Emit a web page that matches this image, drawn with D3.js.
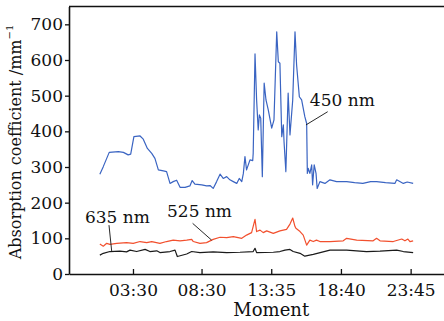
<!DOCTYPE html>
<html>
<head>
<meta charset="utf-8">
<script src="https://cdn.jsdelivr.net/npm/d3@7"></script>
<style>
  body { margin: 0; background: #fff; }
  text { font-family: "DejaVu Serif", serif; fill: #111; }
</style>
</head>
<body>
<div id="chart-area"></div>
<script>
// tick labels on the time axis
var timeTicks = ["03:30", "08:30", "13:35", "18:40", "23:45"];
var valueTicks = [0, 100, 200, 300, 400, 500, 600, 700];

// 450 nm
var blueTimes = ["01:05","01:20","01:46","02:26","02:48","03:09","03:20","03:34","04:01","04:15","04:33","04:52","05:06","05:21","05:43","05:57","06:12","06:26","06:41","06:56","07:18","07:39","07:49","08:01","08:31","08:52","09:07","09:21","09:36","09:51","10:05","10:20","10:34","10:49","11:04","11:15","11:26","11:33","11:40","11:47","12:02","12:14","12:16","12:24","12:31","12:38","12:43","12:49","12:56","13:04","13:12","13:22","13:37","13:47","13:59","14:06","14:13","14:21","14:28","14:31","14:39","14:49","14:57","15:09","15:19","15:26","15:38","15:48","16:02","16:10","16:13","16:17","16:24","16:32","16:36","16:43","16:51","16:56","17:08","17:30","17:52","18:21","19:05","19:40","20:16","20:50","21:16","21:55","22:36","22:44","23:13","23:30","23:56"];
var blueValues = [280,301,341,343,341,334,336,385,387,378,352,338,324,292,289,287,254,259,263,243,243,247,262,252,250,247,248,240,259,280,268,273,264,259,254,268,259,282,329,292,320,318,338,617,488,404,446,437,273,535,488,460,409,432,679,595,591,385,418,371,287,507,390,488,679,586,497,488,441,422,282,296,282,306,250,306,282,240,259,254,264,259,259,256,254,259,259,256,254,264,254,258,254];

// 525 nm
var redTimes = ["01:05","01:20","01:35","01:49","02:19","03:02","03:31","04:01","04:30","04:52","05:28","05:57","06:26","06:56","07:25","07:47","07:54","08:23","08:52","09:21","09:51","10:20","10:49","11:26","11:47","12:09","12:24","12:31","12:46","13:00","13:15","13:44","14:13","14:42","14:57","15:09","15:19","15:23","15:41","15:55","16:10","16:24","16:39","16:53","17:08","17:52","18:50","19:05","19:49","21:01","21:16","21:31","22:29","23:06","23:20","23:33","23:42","23:56"];
var redValues = [84,78,86,83,86,88,86,91,88,91,86,91,95,93,95,97,91,86,88,97,103,102,105,100,109,116,153,119,123,116,121,114,121,125,140,157,133,128,119,109,81,95,91,95,91,91,93,100,95,93,100,93,91,98,93,98,91,93];

// 635 nm
var blackTimes = ["01:05","01:20","01:49","02:33","03:02","03:17","03:46","04:23","04:44","05:14","05:28","06:12","06:34","06:44","07:25","07:47","08:23","09:21","10:20","11:18","12:16","12:24","12:31","13:44","14:13","14:35","14:57","15:11","15:41","16:02","16:39","17:52","19:05","20:32","21:31","22:44","23:13","23:56"];
var blackValues = [53,58,63,64,62,67,63,69,63,65,60,63,67,49,56,63,60,62,60,61,63,72,60,61,63,67,69,63,58,50,55,67,67,63,64,67,63,60];

var seriesNames = ["450 nm", "525 nm", "635 nm"];
var seriesColors = ["#3a64c2", "#f2502e", "#1a1a1a"];

// label anchor, leader start, leader end (time, value)
var labelTimes = [["16:24", "17:42", "16:07"], ["05:59", "07:51", "09:14"], ["00:00", "01:45", "01:57"]];
var labelValues = [[471, 455, 418], [160, 142, 95], [143, 137, 63]];

function toMin(t) {
	var p = t.split(":");
	return +p[0] * 60 + +p[1];
}

var W = 444, H = 321;
var svg = d3.select("#chart-area")
	.append("svg")
	.attr("width", W)
	.attr("height", H);

var x = d3.scaleLinear()
	.domain([-70, 1571])
	.range([69, 444]);

var y = d3.scaleLinear()
	.domain([0, 750])
	.range([274, 6.5]);

// top frame line
svg.append("line")
	.attr("x1", x.range()[0]).attr("x2", x.range()[1])
	.attr("y1", y(750)).attr("y2", y(750))
	.attr("stroke", "#111").attr("stroke-width", 1.6);

// X axis (ticks point inward)
var xAxis = d3.axisBottom(x)
	.tickValues(timeTicks.map(toMin))
	.tickFormat(function (d, i) { return timeTicks[i]; })
	.tickSizeInner(-5)
	.tickSizeOuter(0)
	.tickPadding(10);

var gx = svg.append("g")
	.attr("transform", "translate(0," + y(0) + ")")
	.call(xAxis);
gx.selectAll("text").attr("font-size", "17px").attr("font-family", "DejaVu Serif").attr("fill", "#111");

// Y axis
var yAxis = d3.axisLeft(y)
	.tickValues(valueTicks)
	.tickSizeInner(4)
	.tickSizeOuter(0)
	.tickPadding(2);

var gy = svg.append("g")
	.attr("transform", "translate(" + x(-70) + ",0)")
	.call(yAxis);
gy.selectAll("text").attr("font-size", "17px").attr("font-family", "DejaVu Serif").attr("fill", "#111");

svg.selectAll(".domain").attr("stroke", "#111").attr("stroke-width", 1.6);
svg.selectAll(".tick line").attr("stroke", "#111").attr("stroke-width", 1.3);

// Lines
var line = d3.line()
	.x(function (d) { return x(toMin(d.t)); })
	.y(function (d) { return y(d.v); });

var allTimes = [blueTimes, redTimes, blackTimes];
var allValues = [blueValues, redValues, blackValues];

allTimes.forEach(function (times, s) {
	var pts = times.map(function (t, i) { return { t: t, v: allValues[s][i] }; });
	svg.append("path")
		.datum(pts)
		.attr("fill", "none")
		.attr("stroke", seriesColors[s])
		.attr("stroke-width", 1.2)
		.attr("stroke-linejoin", "round")
		.attr("d", line);
});

// Labels with leader lines
seriesNames.forEach(function (name, s) {
	var lt = labelTimes[s], lv = labelValues[s];
	svg.append("line")
		.attr("x1", x(toMin(lt[1]))).attr("y1", y(lv[1]))
		.attr("x2", x(toMin(lt[2]))).attr("y2", y(lv[2]))
		.attr("stroke", "#111").attr("stroke-width", 0.9);
	svg.append("text")
		.attr("x", x(toMin(lt[0])))
		.attr("y", y(lv[0]))
		.attr("font-size", "17px")
		.text(name);
});

// X Label
svg.append("text")
	.attr("x", x(toMin("13:35")))
	.attr("y", 316)
	.attr("font-size", "18px")
	.attr("text-anchor", "middle")
	.text("Moment");

// Y Label
var yl = svg.append("text")
	.attr("transform", "translate(21," + 142 + ") rotate(-90)")
	.attr("font-size", "16px")
	.attr("text-anchor", "middle");
yl.append("tspan").text("Absorption coefficient /mm");
yl.append("tspan").attr("font-size", "10px").attr("dy", "-0.8em").text("\u22121");
</script>
</body>
</html>
